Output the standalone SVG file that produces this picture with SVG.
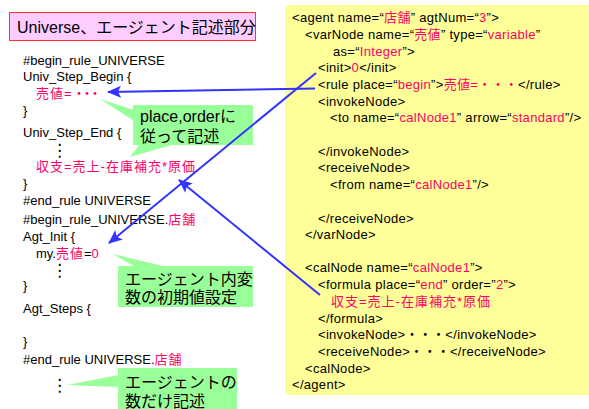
<svg xmlns="http://www.w3.org/2000/svg" width="589" height="409" viewBox="0 0 589 409">
<defs>
<style>
.t{font-family:"Liberation Sans","Noto Sans CJK JP",sans-serif;font-size:13px;fill:#000}
.r{letter-spacing:0.3px}
.p{fill:#FF0066}
.w{letter-spacing:1px}
.k{letter-spacing:-5px}
.c{font-family:"Liberation Sans","Noto Sans CJK JP",sans-serif;font-size:16px;fill:#000}
.d{font-family:"DejaVu Sans",sans-serif;font-size:17px;fill:#000}
.bub{fill:#99FF99;stroke:none}
.con{stroke:#3333FF;stroke-width:2;fill:none}
</style>
<marker id="ah" markerUnits="userSpaceOnUse" markerWidth="14" markerHeight="12" refX="13" refY="6" orient="auto">
<path d="M0,0 L14,6 L0,12 L3,6 Z" fill="#3333FF"/>
</marker>
</defs>
<rect width="589" height="409" fill="#fff"/>

<g id="xml-panel">
<rect x="285" y="5" width="304" height="390" fill="#FFFF99"/>
<text class="t r" x="292" y="22">&lt;agent name=“<tspan class="p">店舗</tspan>” agtNum=“<tspan class="p">3</tspan>”&gt;</text>
<text class="t r" x="305" y="39">&lt;varNode name=“<tspan class="p">売値</tspan>” type=“<tspan class="p">variable</tspan>”</text>
<text class="t r" x="333" y="56">as=“<tspan class="p">Integer</tspan>”&gt;</text>
<text class="t r" x="318" y="72">&lt;init&gt;<tspan class="p">0</tspan>&lt;/init&gt;</text>
<text class="t r" x="318" y="89">&lt;rule place=“<tspan class="p">begin</tspan>”&gt;<tspan class="p">売値=・・・</tspan>&lt;/rule&gt;</text>
<text class="t r" x="318" y="106">&lt;invokeNode&gt;</text>
<text class="t r" x="330" y="122">&lt;to name=“<tspan class="p">calNode1</tspan>” arrow=“<tspan class="p">standard</tspan>”/&gt;</text>
<text class="t r" x="318" y="156">&lt;/invokeNode&gt;</text>
<text class="t r" x="318" y="172">&lt;receiveNode&gt;</text>
<text class="t r" x="330" y="189">&lt;from name=“<tspan class="p">calNode1</tspan>”/&gt;</text>
<text class="t r" x="318" y="223">&lt;/receiveNode&gt;</text>
<text class="t r" x="305" y="239">&lt;/varNode&gt;</text>
<text class="t r" x="305" y="272">&lt;calNode name=“<tspan class="p">calNode1</tspan>”&gt;</text>
<text class="t r" x="318" y="289">&lt;formula place=“<tspan class="p">end</tspan>” order=”<tspan class="p">2</tspan>”&gt;</text>
<text class="t p w" x="331" y="306">収支=売上-在庫補充*原価</text>
<text class="t r" x="318" y="323">&lt;/formula&gt;</text>
<text class="t r" x="318" y="339">&lt;invokeNode&gt;・・・&lt;/invokeNode&gt;</text>
<text class="t r" x="318" y="356">&lt;receiveNode&gt;・・・&lt;/receiveNode&gt;</text>
<text class="t r" x="305" y="373">&lt;calNode&gt;</text>
<text class="t r" x="292" y="389">&lt;/agent&gt;</text>
</g>

<g id="title">
<rect x="9.5" y="12.5" width="246" height="28" fill="#FFCCFF" stroke="#FF3333" stroke-width="1"/>
<text class="c" x="17" y="33">Universe、エージェント記述部分</text>
</g>

<g id="rule-code">
<text class="t" x="23" y="65">#begin_rule_UNIVERSE</text>
<text class="t" x="23" y="81">Univ_Step_Begin {</text>
<text class="t p" x="36" y="98"><tspan class="w">売値=</tspan><tspan class="k">・・・</tspan></text>
<text class="t" x="23" y="115">}</text>
<text class="t" x="23" y="137">Univ_Step_End {</text>
<text class="d" x="51" y="156">⋮</text>
<text class="t p w" x="36" y="171">収支=売上-在庫補充*原価</text>
<text class="t" x="23" y="188">}</text>
<text class="t" x="23" y="205">#end_rule UNIVERSE</text>
<text class="t" x="23" y="224">#begin_rule_UNIVERSE.<tspan class="p w">店舗</tspan></text>
<text class="t" x="23" y="241">Agt_Init {</text>
<text class="t" x="36" y="258">my.<tspan class="p w">売値</tspan>=<tspan class="p">0</tspan></text>
<text class="d" x="51" y="276">⋮</text>
<text class="t" x="23" y="290">}</text>
<text class="t" x="23" y="313">Agt_Steps {</text>
<text class="t" x="23" y="346">}</text>
<text class="t" x="23" y="364">#end_rule UNIVERSE.<tspan class="p w">店舗</tspan></text>
<text class="d" x="51" y="391">⋮</text>
</g>

<g id="callout-order">
<polygon class="bub" points="100,99 134,110 134,121"/>
<polygon class="bub" points="130,157 140,144 175,144"/>
<rect class="bub" x="133" y="105" width="120" height="40"/>
<text class="c" x="140" y="122">place,orderに</text>
<text class="c" x="140" y="142">従って記述</text>
</g>

<g id="callout-init">
<polygon class="bub" points="113,254 135,267 167,267"/>
<rect class="bub" x="118" y="266" width="135" height="41"/>
<text class="c" x="125" y="285">エージェント内変</text>
<text class="c" x="125" y="303">数の初期値設定</text>
</g>

<g id="callout-agents">
<polygon class="bub" points="67,385 119,375 119,387"/>
<rect class="bub" x="118" y="368" width="119" height="41"/>
<text class="c" x="125" y="388">エージェントの</text>
<text class="c" x="125" y="407">数だけ記述</text>
</g>

<g id="connectors">
<line class="con" x1="315" y1="88.5" x2="108" y2="92" marker-end="url(#ah)"/>
<line class="con" x1="316" y1="73" x2="109" y2="243" marker-end="url(#ah)"/>
<line class="con" x1="320" y1="295" x2="179" y2="180" marker-end="url(#ah)"/>
</g>
</svg>
